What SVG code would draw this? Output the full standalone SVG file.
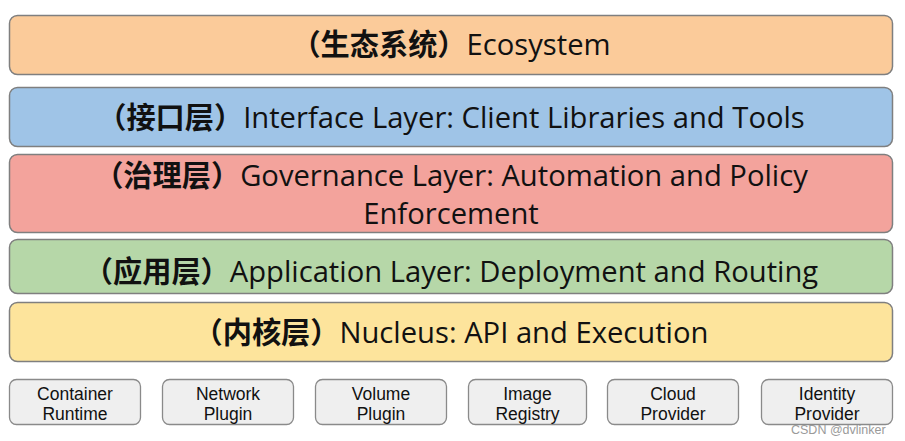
<svg xmlns="http://www.w3.org/2000/svg" width="905" height="441" viewBox="0 0 905 441">
<style>
.layer{stroke:#7f7f7f;stroke-width:1.5}
.t{font-family:"Open Sans","Noto Sans CJK SC",sans-serif;font-size:29.2px;fill:#111;text-anchor:middle}
.cn{font-family:"Noto Sans CJK SC",sans-serif;font-weight:bold}
.box{fill:#efefef;stroke:#8a8a8a;stroke-width:1.3}
.s{font-family:"Liberation Sans",sans-serif;font-size:17.5px;fill:#111;text-anchor:middle}
.wm{font-family:"Liberation Sans",sans-serif;font-size:12.5px;fill:#9a9a9a}
</style>
<rect width="905" height="441" fill="#ffffff"/>
<g id="ecosystem">
<rect class="layer" x="9.5" y="15.5" width="883" height="59" rx="8" fill="#fbcb9a"/>
<text class="t" x="451" y="55"><tspan class="cn">（生态系统）</tspan>Ecosystem</text>
</g>
<g id="interface">
<rect class="layer" x="9.5" y="87.5" width="883" height="59" rx="8" fill="#9fc4e7"/>
<text class="t" x="451" y="128"><tspan class="cn">（接口层）</tspan>Interface Layer: Client Libraries and Tools</text>
</g>
<g id="governance">
<rect class="layer" x="9.5" y="154.5" width="883" height="78" rx="8" fill="#f3a39c"/>
<text class="t" x="451" y="185.5"><tspan class="cn">（治理层）</tspan>Governance Layer: Automation and Policy</text>
<text class="t" x="451" y="223.5">Enforcement</text>
</g>
<g id="application">
<rect class="layer" x="9.5" y="239.5" width="883" height="54" rx="8" fill="#b6d7a8"/>
<text class="t" x="451" y="282"><tspan class="cn">（应用层）</tspan>Application Layer: Deployment and Routing</text>
</g>
<g id="nucleus">
<rect class="layer" x="9.5" y="302.5" width="883" height="59" rx="8" fill="#fde49c"/>
<text class="t" x="451" y="343"><tspan class="cn">（内核层）</tspan>Nucleus: API and Execution</text>
</g>
<g id="container-runtime">
<rect class="box" x="9.5" y="379.5" width="131" height="45" rx="7"/>
<text class="s" x="75" y="400">Container</text>
<text class="s" x="75" y="419.5">Runtime</text>
</g>
<g id="network-plugin">
<rect class="box" x="162.5" y="379.5" width="131" height="45" rx="7"/>
<text class="s" x="228" y="400">Network</text>
<text class="s" x="228" y="419.5">Plugin</text>
</g>
<g id="volume-plugin">
<rect class="box" x="315.5" y="379.5" width="131" height="45" rx="7"/>
<text class="s" x="381" y="400">Volume</text>
<text class="s" x="381" y="419.5">Plugin</text>
</g>
<g id="image-registry">
<rect class="box" x="468.5" y="379.5" width="118" height="45" rx="7"/>
<text class="s" x="527.5" y="400">Image</text>
<text class="s" x="527.5" y="419.5">Registry</text>
</g>
<g id="cloud-provider">
<rect class="box" x="607.5" y="379.5" width="131" height="45" rx="7"/>
<text class="s" x="673" y="400">Cloud</text>
<text class="s" x="673" y="419.5">Provider</text>
</g>
<g id="identity-provider">
<rect class="box" x="761.5" y="379.5" width="131" height="45" rx="7"/>
<text class="s" x="827" y="400">Identity</text>
<text class="s" x="827" y="419.5">Provider</text>
</g>
<g id="connectors"></g>
<text class="wm" x="791" y="434">CSDN @dvlinker</text>
</svg>
